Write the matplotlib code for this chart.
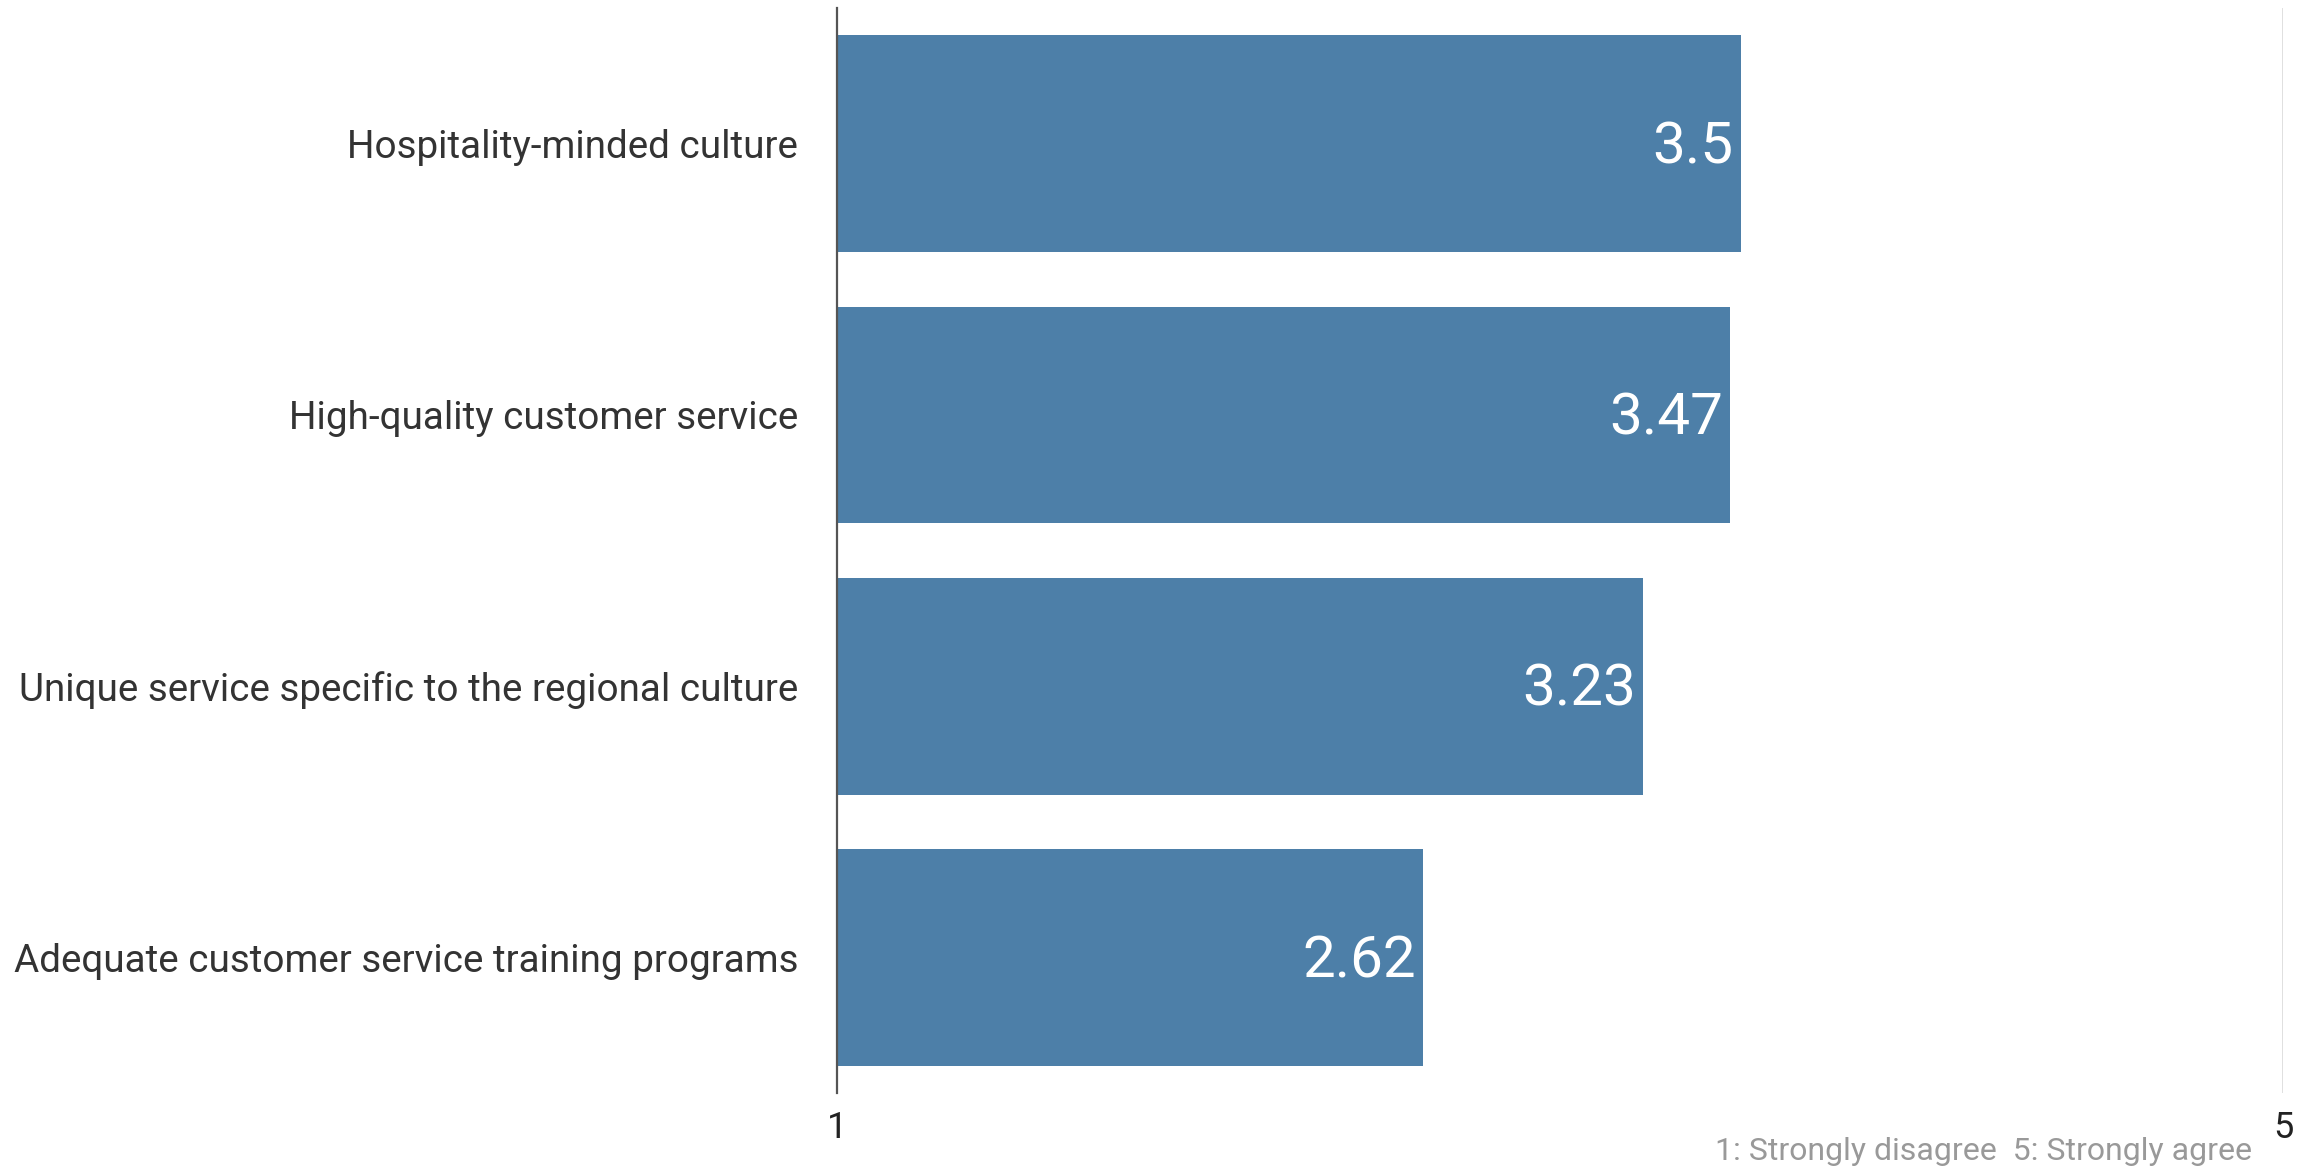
import matplotlib
matplotlib.use("Agg")
import matplotlib.pyplot as plt
from matplotlib.transforms import offset_copy

categories = [
    "Hospitality-minded culture",
    "High-quality customer service",
    "Unique service specific to the regional culture",
    "Adequate customer service training programs",
]
scores = [3.5, 3.47, 3.23, 2.62]
value_labels = ["3.5", "3.47", "3.23", "2.62"]
x_ticks = [1, 5]
x_tick_labels = ["1", "5"]
scale_note = "1: Strongly disagree  5: Strongly agree"

plt.rcParams["font.family"] = ["Roboto", "DejaVu Sans"]

BAR_COLOR = "#4d7fa8"
TEXT_COLOR = "#333333"

fig = plt.figure(figsize=(23.11, 11.69), dpi=100)
ax = fig.add_axes([0.3622, 0.065, 0.6257, 0.928])

y_pos = list(range(len(categories)))
base = 1
ax.barh(y_pos, [s - base for s in scores], left=base, height=0.8,
        color=BAR_COLOR, zorder=2)

# value labels sit just inside the end of each bar
label_tf = offset_copy(ax.transData, fig=fig, x=-5, y=-3, units="points")
for y, s, lab in zip(y_pos, scores, value_labels):
    ax.text(s, y, lab, ha="right", va="center", color="white",
            fontsize=42, zorder=3, transform=label_tf)

ax.set_xlim(1, 5)
ax.set_ylim(len(categories) - 0.5, -0.5)
ax.set_yticks(y_pos)
ax.set_yticklabels(categories, fontsize=27.8, color=TEXT_COLOR)
ax.set_xticks(x_ticks)
ax.set_xticklabels(x_tick_labels, fontsize=26, color="#222222")
ax.tick_params(axis="both", length=0)
ax.tick_params(axis="y", pad=28)
ax.tick_params(axis="x", pad=12)

for side in ["top", "bottom", "right"]:
    ax.spines[side].set_visible(False)
ax.spines["left"].set_color("#555555")
ax.spines["left"].set_linewidth(1.6)
ax.axvline(5, color="#dddddd", linewidth=2.0, zorder=1)

fig.text(2252 / 2311, 1 - 1152 / 1169, scale_note, ha="right", va="center",
         fontsize=23, color="#999999")

fig.savefig("out.png", dpi=100, facecolor="white")
